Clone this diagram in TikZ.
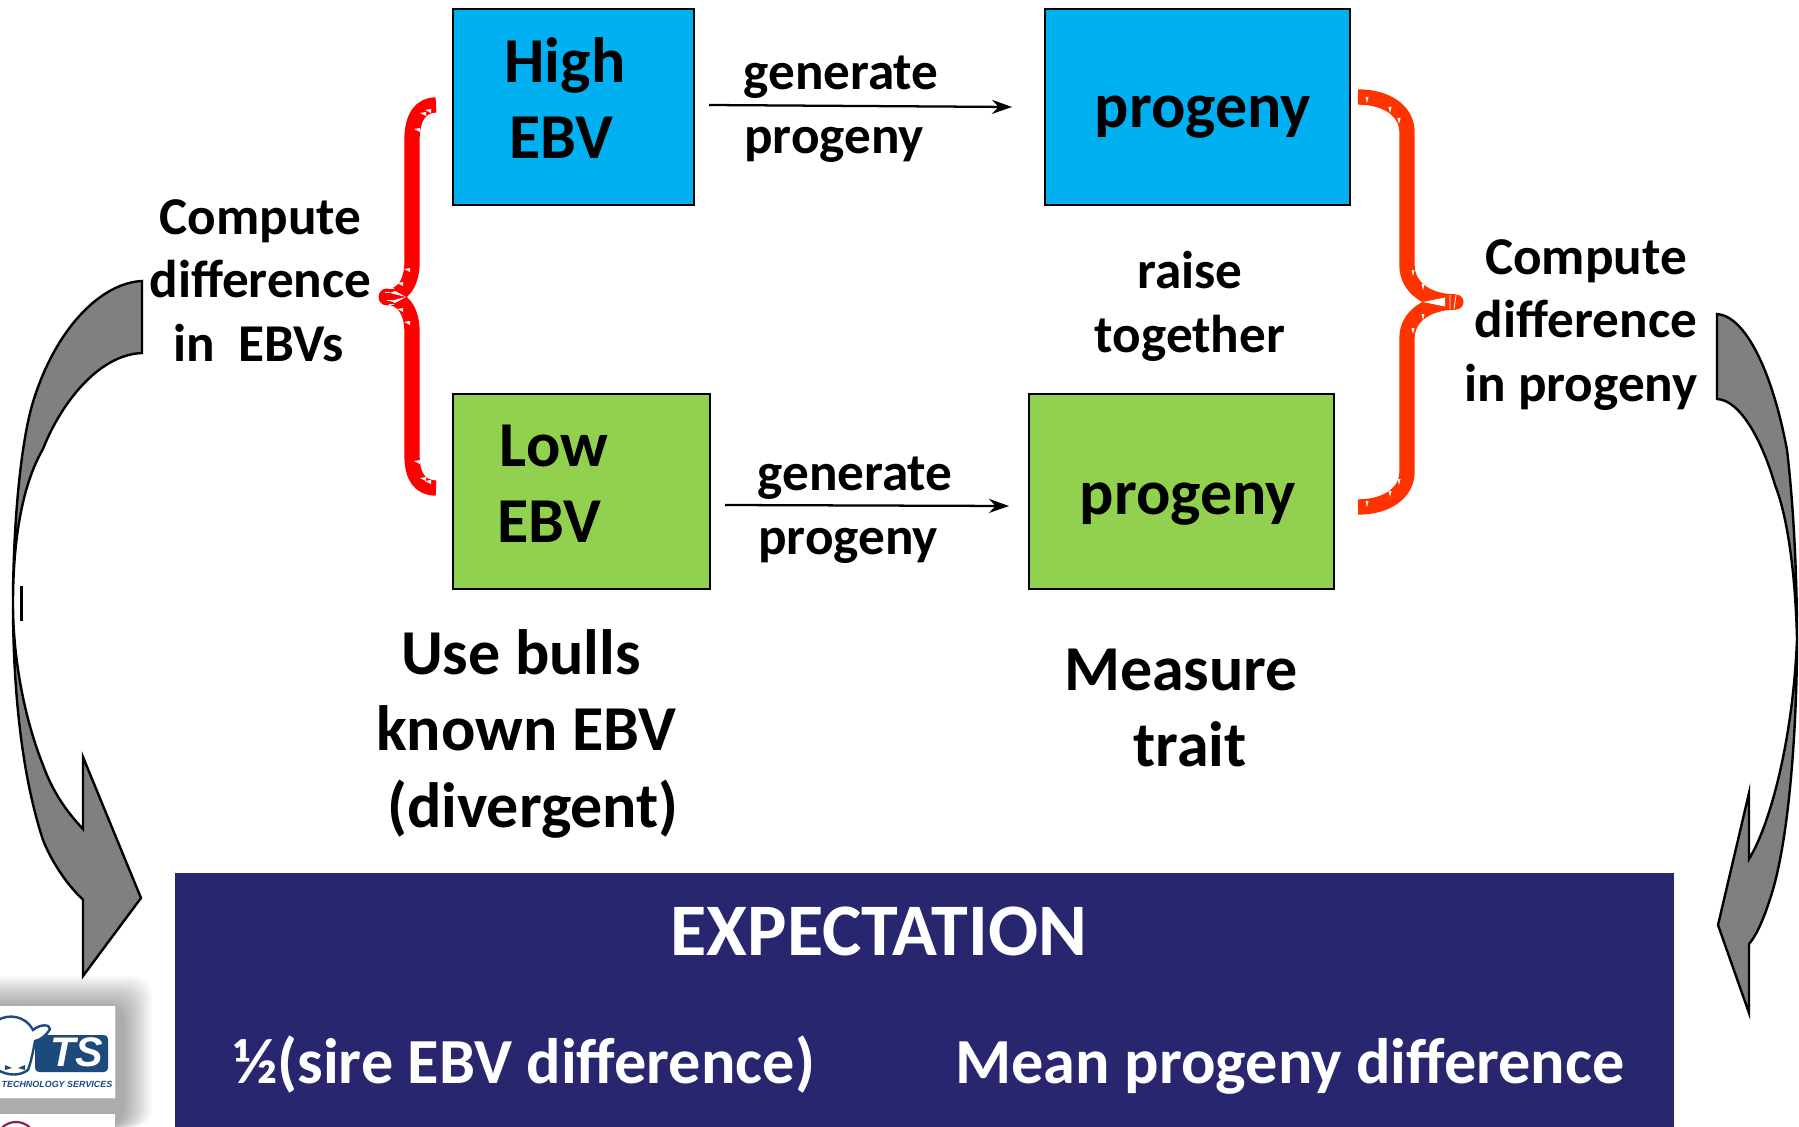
\documentclass[tikz,border=0pt]{standalone}
\usepackage{fontspec}
\setmainfont{Carlito}
\newfontfamily\logofont{Liberation Sans}
\usetikzlibrary{arrows.meta}
\definecolor{cblue}{HTML}{00B0F0}
\definecolor{cgreen}{HTML}{92D050}
\definecolor{cnavy}{HTML}{27266F}
\definecolor{cred}{HTML}{FF0000}
\definecolor{corange}{HTML}{FF3300}
\definecolor{cgray}{HTML}{808080}
\definecolor{clogo}{HTML}{1C4A7C}
\definecolor{cmaroon}{HTML}{8C1D4F}
\tikzset{
  x=0.75pt,y=-0.75pt,
  boxa/.style={draw=black,line width=1.9pt,fill=#1},
  big/.style={anchor=base,inner sep=0pt,font=\fontsize{48}{50}\selectfont\bfseries},
  small/.style={anchor=base,inner sep=0pt,font=\fontsize{39.9}{42}\selectfont\bfseries},
  head/.style={anchor=base,inner sep=0pt,text=white,font=\fontsize{55.6}{58}\selectfont\bfseries},
  foot/.style={anchor=base,inner sep=0pt,text=white,font=\fontsize{48.2}{50}\selectfont\bfseries},
  link/.style={draw=black,line width=1.7pt,-{Stealth[length=15pt,width=10.5pt]}},
  curly/.style={line width=11.5pt,line cap=butt,line join=round},
  fat/.style={draw=black,line width=1.8pt,fill=cgray,line join=miter},
  tick/.style={fill=white,draw=none},
}
\begin{document}
\begin{tikzpicture}
\clip (0,0) rectangle (1799,1127);
\fill[white] (0,0) rectangle (1799,1127);

% boxes
\path[boxa=cblue] (453,9) rectangle (694,205);
\path[boxa=cblue] (1045,9) rectangle (1350,205);
\path[boxa=cgreen] (453,394) rectangle (710,589);
\path[boxa=cgreen] (1029,394) rectangle (1334,589);
\fill[cnavy] (175,873) rectangle (1674,1127);

% box texts
\node[big] (t1) at (565,83) {High};
\node[big] (t2) at (561,159) {EBV};
\node[big] (t3) at (554,466) {Low};
\node[big] (t4) at (549,542) {EBV};
\node[big] (t5) at (1203,128) {progeny};
\node[big] (t6) at (1188,514) {progeny};

% connectors
\coordinate (a1) at (709,105);
\coordinate (a2) at (1012,107);
\coordinate (b1) at (725,505);
\coordinate (b2) at (1009,506);
\draw[link] (a1) -- (a2);
\draw[link] (b1) -- (b2);
\node[small] (g1) at (841,90) {generate};
\node[small] (p1) at (834,154) {progeny};
\node[small] (g2) at (855,490) {generate};
\node[small] (p2) at (848,554) {progeny};
\node[small] (r1) at (1190,288) {raise};
\node[small] (r2) at (1190,352) {together};
\node[small] (c1) at (260.5,234) {Compute};
\node[small] (c2) at (260.5,297) {difference};
\node[small] (c3) at (258.5,361) {in\ \ EBVs};
\node[small] (d1) at (1586,274) {Compute};
\node[small] (d2) at (1586,337) {difference};
\node[small] (d3) at (1581,401) {in progeny};
\node[big] (u1) at (521,674) {Use bulls};
\node[big] (u2) at (526,750) {known EBV};
\node[big] (u3) at (533,827) {(divergent)};
\node[big] (m1) at (1181,690) {Measure};
\node[big] (m2) at (1190,766) {trait};
\node[head] (e1) at (879,955) {EXPECTATION};
\node[foot] (e2) at (524,1083) {½(sire EBV difference)};
\node[foot] (e3) at (1290,1083) {Mean progeny difference};

% left brace
\draw[cred,curly] (436,105) .. controls (420,105) and (412,118) .. (412,140) -- (412,262)
   .. controls (412,284) and (402,297) .. (386,297);
\draw[cred,curly] (386,297) .. controls (402,297) and (412,310) .. (412,332) -- (412,455)
   .. controls (412,477) and (420,488) .. (436,488);
\fill[cred] (387,297) circle (8.5);
\fill[white] (406,297) -- (390,301) -- (395,303) -- cycle;
\fill[white] (406,297) -- (390,293) -- (395,291) -- cycle;
\foreach \p/\r in {428/111,423/114,417/130,428/482,423/479,417/462,407/270,400/284,407/323,400/310}{
  \fill[tick] (\p,\r) ++(-3,-1) -- ++(6,-1) -- ++(0,4) -- cycle;
}
\foreach \p/\r in {390/292,392/300,394/288,394/304}{
  \draw[white,line width=0.5pt] (\p,\r) -- ++(-5,0);
}

% right brace
\draw[corange,curly] (1358,97) .. controls (1388,97) and (1407,112) .. (1407,132) -- (1407,265)
   .. controls (1407,288) and (1428,302) .. (1456,302);
\draw[corange,curly] (1456,302) .. controls (1428,302) and (1407,316) .. (1407,338) -- (1407,472)
   .. controls (1407,492) and (1388,507) .. (1358,507);
\fill[corange] (1456,294.5) arc (-90:90:7.5) -- cycle;
\fill[white] (1423,302) -- (1445,297.5) -- (1445,306.5) -- cycle;
\foreach \p/\r in {1367/100,1390/110,1399/121,1367/504,1390/494,1399/482,1413/273,1423/287,1413/331,1423/317}{
  \fill[tick] (\p,\r) ++(-1.5,-3) -- ++(3,0) -- ++(-1.5,6) -- cycle;
}
\draw[white,line width=0.6pt] (1450,295) -- (1450,309) (1456,295) -- (1454,309);

% curved arrows
\path[fat] (142,281) .. controls (100,283) and (55,330) .. (33,402)
   .. controls (20,445) and (13,530) .. (13,604)
   .. controls (13,680) and (20,770) .. (43,840)
   .. controls (53,865) and (70,888) .. (83,899.5)
   -- (83,976) -- (141,898) -- (83,757) -- (83,829)
   .. controls (65,810) and (52,790) .. (43,765)
   .. controls (25,720) and (13,660) .. (13,604)
   .. controls (13,530) and (25,480) .. (43,449)
   .. controls (58,410) and (95,355) .. (142,353) -- cycle;
\draw[black,line width=1.6pt] (21.5,586) -- (21.5,621);
\path[fat] (1717,314) .. controls (1745,316) and (1772,370) .. (1787,450)
   .. controls (1793,500) and (1797,570) .. (1797,639)
   .. controls (1797,720) and (1790,840) .. (1770,899)
   .. controls (1765,915) and (1757,935) .. (1749,944)
   -- (1749,1013) -- (1718,925) -- (1749,793) -- (1749,859)
   .. controls (1770,825) and (1793,740) .. (1797,639)
   .. controls (1795,560) and (1785,510) .. (1775,485)
   .. controls (1762,440) and (1740,400) .. (1717,399) -- cycle;

% logo: soft shadow
\foreach \g in {0,2,...,28}{
  \fill[black,opacity=0.025,rounded corners=14] (-30,{976+\g}) rectangle ({152-\g},1127);
}
\fill[white] (-2,1006) rectangle (115,1098);
\draw[gray!50,line width=0.5pt] (115,1006) -- (115,1098) -- (-2,1098);
\fill[white] (-2,1114) rectangle (115,1127);
\fill[clogo,rounded corners=3] (35,1035) rectangle (108,1072);
\path[draw=clogo,line width=1.8pt,fill=white] (-2,1020) .. controls (8,1014) and (25,1015) .. (33,1030)
   .. controls (40,1024) and (50,1024) .. (50,1029)
   .. controls (46,1036) and (40,1040) .. (35,1041)
   .. controls (33,1052) and (31,1062) .. (28,1070)
   .. controls (20,1076) and (8,1076) .. (-2,1070) -- cycle;
\fill[clogo] (5,1065) -- (12,1068) -- (5,1070) -- cycle;
\fill[clogo] (25,1065) -- (18,1068) -- (25,1070) -- cycle;
\node[anchor=base,inner sep=0pt,text=white,font=\logofont\fontsize{31}{31}\selectfont\bfseries\itshape] (l1) at (77,1066) {TS};
\node[anchor=base,inner sep=0pt,text=clogo,font=\logofont\fontsize{6.7}{8}\selectfont\bfseries\itshape] (l2) at (57,1087) {TECHNOLOGY SERVICES};
\draw[cmaroon,line width=1.6pt] (16,1142) circle (20);
\end{tikzpicture}
\end{document}
